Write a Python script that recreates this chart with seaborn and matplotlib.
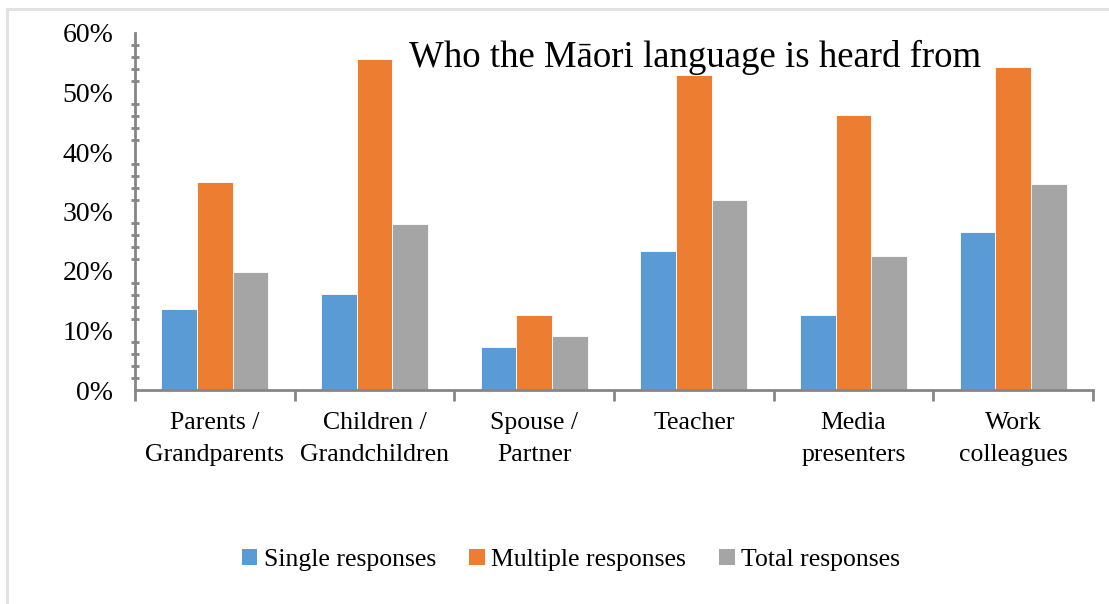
import matplotlib
matplotlib.use("Agg")
import matplotlib.pyplot as plt
import seaborn as sns
import pandas as pd
from matplotlib.patches import Patch
from matplotlib.lines import Line2D
from matplotlib.ticker import MultipleLocator, FuncFormatter, FixedLocator

categories = ["Parents /\nGrandparents", "Children /\nGrandchildren", "Spouse /\nPartner",
              "Teacher", "Media\npresenters", "Work\ncolleagues"]
single = [13.6, 16.1, 7.2, 23.4, 12.6, 26.6]
multiple = [35.0, 55.6, 12.6, 52.9, 46.2, 54.3]
total = [19.8, 27.9, 9.1, 31.9, 22.5, 34.6]
series = ["Single responses", "Multiple responses", "Total responses"]
colors = ["#5B9BD5", "#ED7D31", "#A5A5A5"]
title = "Who the Māori language is heard from"

rows = []
for name, vals in zip(series, [single, multiple, total]):
    for c, v in zip(categories, vals):
        rows.append({"category": c, "series": name, "value": v})
df = pd.DataFrame(rows)

sns.set_style("white")
plt.rcParams["font.family"] = ["Liberation Serif", "DejaVu Serif"]
plt.rcParams["text.color"] = "black"
plt.rcParams["xtick.labelcolor"] = "black"
plt.rcParams["ytick.labelcolor"] = "black"

fig = plt.figure(figsize=(11.09, 6.04), dpi=100)
ax = fig.add_axes([135/1109, 1-390/604, (1093-135)/1109, (390-33)/604])

sns.barplot(data=df, x="category", y="value", hue="series", palette=colors,
            saturation=1, width=0.67, ax=ax, edgecolor="white", linewidth=0.6,
            legend=False)

ax.set_xlim(-0.5, len(categories) - 0.5)
ax.set_ylim(0, 60)
ax.yaxis.set_major_locator(MultipleLocator(10))
ax.yaxis.set_minor_locator(MultipleLocator(2))
ax.yaxis.set_major_formatter(FuncFormatter(lambda v, p: f"{v:.0f}%"))
ax.xaxis.set_minor_locator(FixedLocator([i - 0.5 for i in range(len(categories) + 1)]))

axis_color = "#868686"
for s in ["top", "right"]:
    ax.spines[s].set_visible(False)
for s in ["left", "bottom"]:
    ax.spines[s].set_color(axis_color)
    ax.spines[s].set_linewidth(2)

ax.tick_params(axis="y", which="major", direction="inout", length=9, width=2,
               color=axis_color, labelsize=20, pad=11, labelcolor="black")
ax.tick_params(axis="y", which="minor", direction="inout", length=6, width=2,
               color=axis_color, left=True)
ax.tick_params(axis="x", which="major", direction="inout", length=10, width=2,
               color=axis_color, labelsize=18.5, pad=11, labelcolor="black")
ax.tick_params(axis="x", which="minor", direction="out", length=8, width=2,
               color=axis_color, bottom=True)
for lab in ax.get_xticklabels():
    lab.set_linespacing(1.55)
ax.set_xlabel("")
ax.set_ylabel("")

fig.text(695/1109, 1-57/604, title, ha="center", va="center", fontsize=26.5,
         color="black")

handles = [Patch(facecolor=c, edgecolor="none", label=s) for c, s in zip(colors, series)]
fig.legend(handles=handles, loc="center", bbox_to_anchor=(571/1109, 1-560/604), ncol=3,
           frameon=False, fontsize=18.5, handlelength=0.6, handleheight=0.6,
           handletextpad=0.25, columnspacing=1.3)

# light outer chart border (only top and left edges are visible in the crop)
fig.add_artist(Line2D([7/1109, 7/1109], [0, 1-9/604], transform=fig.transFigure,
                      color="#e3e3e3", linewidth=2.2))
fig.add_artist(Line2D([7/1109, 1], [1-9/604, 1-9/604], transform=fig.transFigure,
                      color="#e3e3e3", linewidth=2.2))

fig.savefig("out.png", dpi=100)
